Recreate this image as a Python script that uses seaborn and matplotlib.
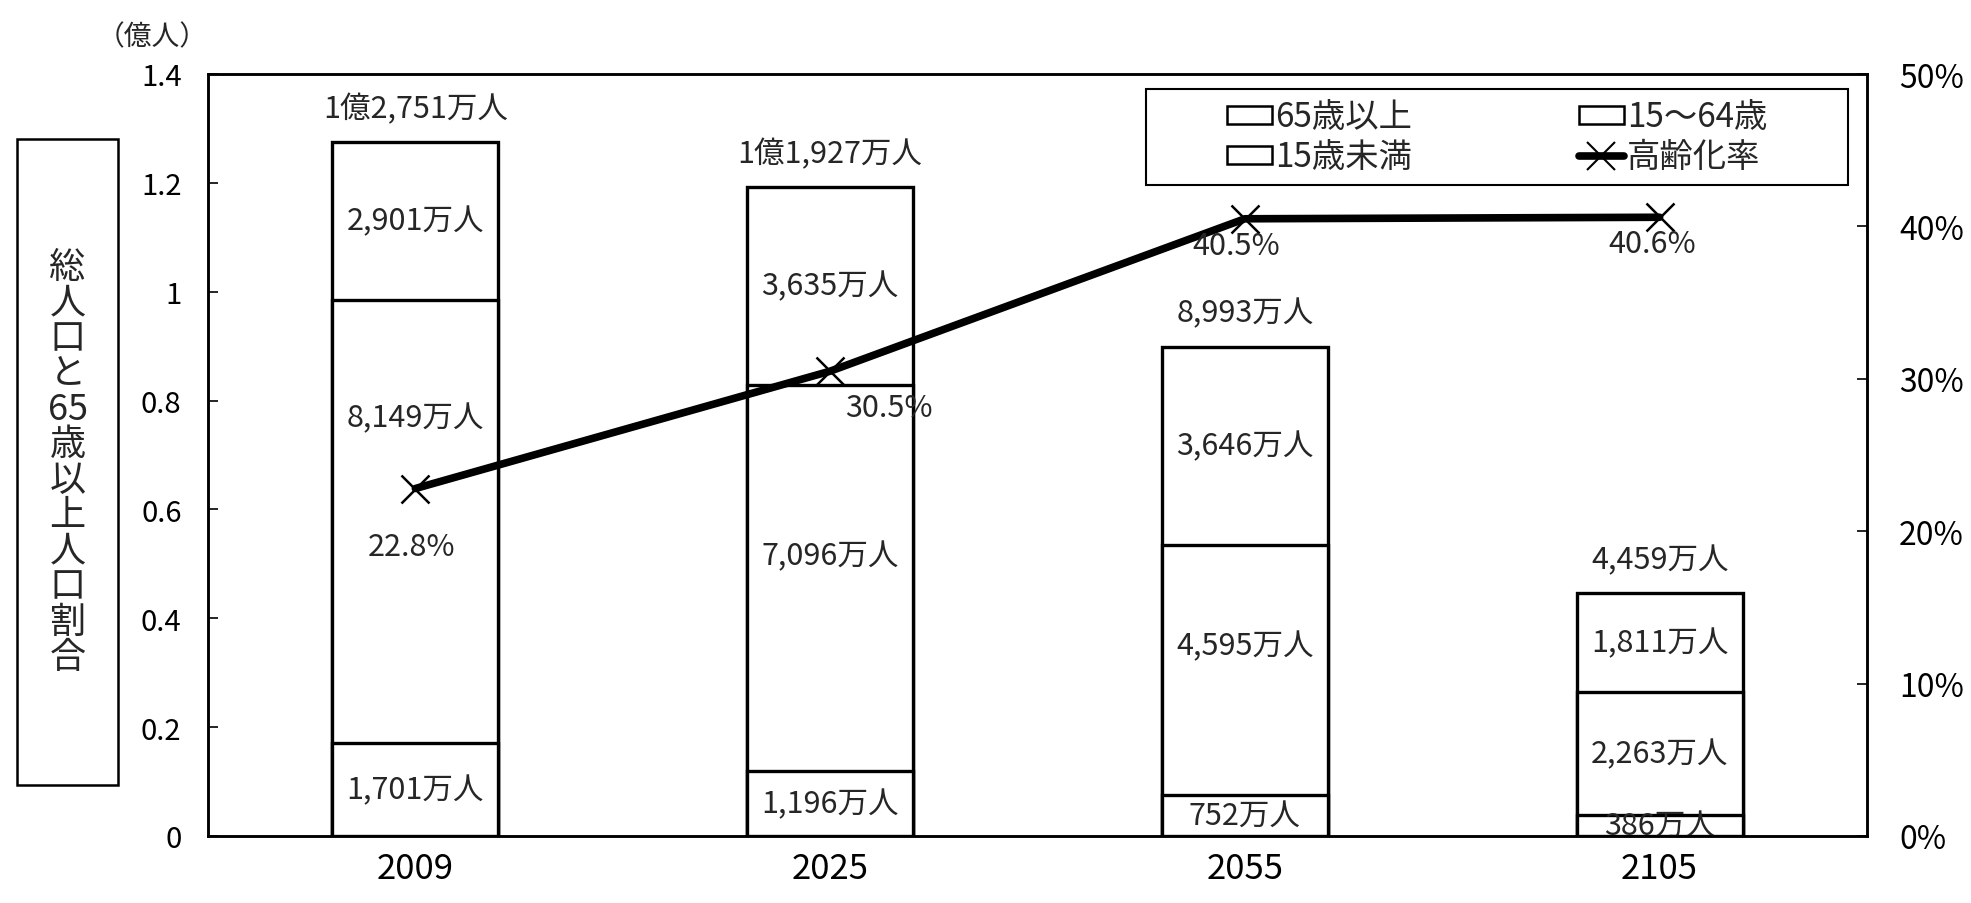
import numpy as np
import pandas as pd
import matplotlib
matplotlib.use('Agg')
import matplotlib.pyplot as plt
from matplotlib.patches import Rectangle, Patch
from matplotlib.lines import Line2D
import seaborn as sns

# ---------------- data ----------------
years = ['2009', '2025', '2055', '2105']
age65_over = [2901, 3635, 3646, 1811]      # 万人
age15_64 = [8149, 7096, 4595, 2263]        # 万人
age0_14 = [1701, 1196, 752, 386]           # 万人
totals = [12751, 11927, 8993, 4459]        # 万人
aging_rate = [22.8, 30.5, 40.5, 40.6]      # %
series_names = ['65歳以上', '15～64歳', '15歳未満']
rate_name = '高齢化率'
y_ticks = [0, 0.2, 0.4, 0.6, 0.8, 1.0, 1.2, 1.4]
y_tick_labels = ['0', '0.2', '0.4', '0.6', '0.8', '1', '1.2', '1.4']
y2_ticks = [0, 10, 20, 30, 40, 50]
y2_tick_labels = ['0%', '10%', '20%', '30%', '40%', '50%']
y_label = '総人口と65歳以上人口割合'
unit_label = '（億人）'

# ---------------- style ----------------
sns.set_style('white')
plt.rcParams['font.family'] = ['Noto Sans CJK JP', 'DejaVu Sans']

W, H = 1971, 904
fig = plt.figure(figsize=(W / 100, H / 100), dpi=100)
L, R, T, B = 208, 1867, 75, 837
ax = fig.add_axes([L / W, 1 - B / H, (R - L) / W, (B - T) / H])

def fmt_man(v):
    return f'{v:,}万人'

def fmt_total(v):
    if v >= 10000:
        return f'{v // 10000}億{v % 10000:,}万人'
    return f'{v:,}万人'

a0 = np.array(age0_14) / 1e4
a1 = np.array(age15_64) / 1e4
a2 = np.array(age65_over) / 1e4
lvl1 = a0
lvl2 = a0 + a1
lvl3 = a0 + a1 + a2

df = pd.DataFrame({'year': years, 'top': lvl3, 'mid': lvl2, 'low': lvl1})

bar_kw = dict(color='white', edgecolor='black', linewidth=2.4, width=0.4,
              saturation=1, ax=ax, order=years)
for col in ['top', 'mid', 'low']:
    sns.barplot(data=df, x='year', y=col, **bar_kw)

ax.set_xlim(-0.5, 3.5)
ax.set_ylim(0, 1.4)
ax.set_yticks(y_ticks)
ax.set_yticklabels(y_tick_labels)
ax.set_xlabel('')
ax.set_ylabel('')
ax.tick_params(axis='y', direction='in', length=7, width=1.2, pad=19,
               labelsize=21, colors='black')
ax.tick_params(axis='x', length=0, pad=11, labelsize=25, colors='black')
for s in ax.spines.values():
    s.set_color('black')
    s.set_linewidth(1.8)

# segment labels
mid_nudge = [0.19, 0.04, 0.045, 0.0]
lab_fs = 22
for i in range(len(years)):
    ax.text(i, (lvl2[i] + lvl3[i]) / 2, fmt_man(age65_over[i]), ha='center',
            va='center', fontsize=lab_fs, zorder=5)
    ax.text(i, (lvl1[i] + lvl2[i]) / 2 + mid_nudge[i], fmt_man(age15_64[i]),
            ha='center', va='center', fontsize=lab_fs, zorder=5)
    ax.text(i, lvl1[i] / 2, fmt_man(age0_14[i]), ha='center', va='center',
            fontsize=lab_fs, zorder=5)
    ax.annotate(fmt_total(totals[i]), xy=(i, lvl3[i]), xytext=(0, 24),
                textcoords='offset points', ha='center', va='center',
                fontsize=lab_fs)

# aging-rate line on secondary axis
ax2 = ax.twinx()
sns.lineplot(x=np.arange(len(years)), y=aging_rate, ax=ax2, color='black',
             linewidth=5.5, marker='x', markersize=20, markeredgewidth=1.8,
             markeredgecolor='black')
ax2.set_ylim(0, 50)
ax2.set_xlim(-0.5, 3.5)
ax2.set_yticks(y2_ticks)
ax2.set_yticklabels(y2_tick_labels)
ax2.set_ylabel('')
ax2.tick_params(axis='y', direction='in', length=7, width=1.2, pad=23,
                labelsize=23, colors='black')
for lbl in ax2.get_yticklabels():
    lbl.set_horizontalalignment('left')
for s in ax2.spines.values():
    s.set_color('black')
    s.set_linewidth(1.8)

rate_offsets = [(-3, -42), (42, -26), (-6, -19), (-5, -19)]
for i, r in enumerate(aging_rate):
    ax2.annotate(f'{r}%', xy=(i, r), xytext=rate_offsets[i],
                 textcoords='offset points', ha='center', va='center',
                 fontsize=lab_fs)

# legend with separate frame
lx0, lx1, ly0, ly1 = 1146, 1848, 90, 186
ax2.add_patch(Rectangle(((lx0 - L) / (R - L), (B - ly1) / (B - T)),
                        (lx1 - lx0) / (R - L), (ly1 - ly0) / (B - T),
                        transform=ax2.transAxes, facecolor='white',
                        edgecolor='black', linewidth=1.5, zorder=6,
                        clip_on=False))
rect_kw = dict(facecolor='white', edgecolor='black', linewidth=1.8)
handles = [Patch(**rect_kw, label=series_names[0]),
           Patch(**rect_kw, label=series_names[2]),
           Patch(**rect_kw, label=series_names[1]),
           Line2D([], [], color='black', linewidth=5.5, marker='x',
                  markersize=20, markeredgewidth=1.5, label=rate_name)]
leg = ax2.legend(handles=handles, ncol=2, frameon=False, loc='center',
                 bbox_to_anchor=(((lx0 + lx1) / 2 - L) / (R - L),
                                 (B - (ly0 + ly1) / 2) / (B - T)),
                 fontsize=24, handlelength=1.35, handleheight=0.45,
                 handletextpad=0.1, columnspacing=5.0, labelspacing=0.15,
                 borderpad=0.2)
leg.set_zorder(7)

# y-axis label in a box
bx0, bx1, by0, by1 = 17, 118, 140, 786
fig.add_artist(Rectangle((bx0 / W, 1 - by1 / H), (bx1 - bx0) / W,
                         (by1 - by0) / H, transform=fig.transFigure,
                         facecolor='white', edgecolor='black', linewidth=1.8))
vert = '\n'.join(['総', '人', '口', 'と', '65', '歳', '以', '上', '人', '口', '割', '合'])
fig.text((bx0 + bx1) / 2 / W, 1 - (by0 + by1) / 2 / H, vert, ha='center',
         va='center', fontsize=26, linespacing=0.98)

fig.text(152 / W, 1 - 37 / H, unit_label, ha='center', va='center', fontsize=20)

fig.savefig('out.png', dpi=100, facecolor='white')
